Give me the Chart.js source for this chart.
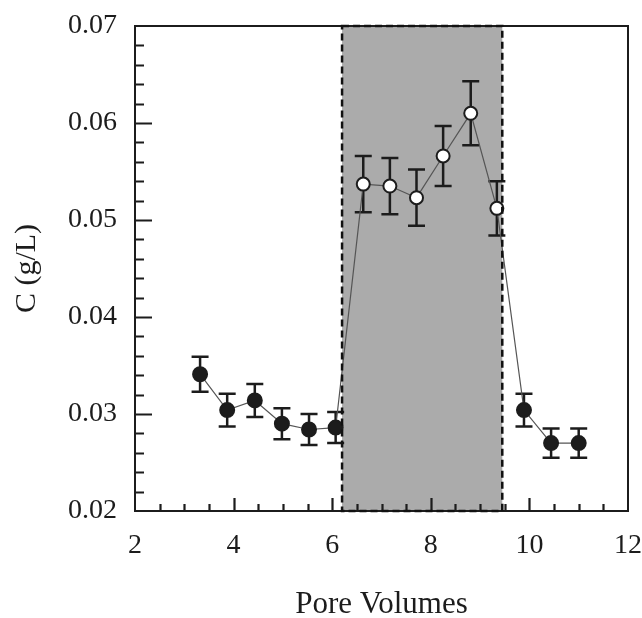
<!DOCTYPE html>
<html>
<head>
<meta charset="utf-8">
<script src="https://cdn.jsdelivr.net/npm/chart.js@4.4.1/dist/chart.umd.min.js"></script>
<style>
  html, body { margin: 0; padding: 0; background: #ffffff; }
  #wrap { width: 642px; height: 618px; }
</style>
</head>
<body>
<div id="wrap"><canvas id="c" width="642" height="618"></canvas></div>
<script>
// ---- data ----
const poreVolumes = [3.32, 3.87, 4.43, 4.98, 5.53, 6.07, 6.63, 7.17, 7.71, 8.25, 8.81, 9.34, 9.89, 10.44, 11.00];
const concentration = [0.0341, 0.0304, 0.0314, 0.0290, 0.0284, 0.0286, 0.0537, 0.0535, 0.0523, 0.0566, 0.0610, 0.0512, 0.0304, 0.0270, 0.0270];
const concError = [0.0018, 0.0017, 0.0017, 0.0016, 0.0016, 0.0016, 0.0029, 0.0029, 0.0029, 0.0031, 0.0033, 0.0028, 0.0017, 0.0015, 0.0015];
const pulseWindow = [6.2, 9.45];           // shaded interval (pore volumes)
const xTicks = [2, 4, 6, 8, 10, 12];
const yTicks = [0.02, 0.03, 0.04, 0.05, 0.06, 0.07];
const xMinorStep = 0.5;
const yMinorStep = 0.002;
const xTitle = 'Pore Volumes';
const yTitle = 'C (g/L)';

const INK = '#1c1c1c';
const FONT = "'Liberation Serif', 'Times New Roman', serif";

const points = poreVolumes.map((v, i) => ({ x: v, y: concentration[i] }));
const inPulse = (x) => x >= pulseWindow[0] && x <= pulseWindow[1];

const zeroPad = (s) => { s.paddingTop = 0; s.paddingBottom = 0; s.paddingLeft = 0; s.paddingRight = 0; };

const decorPlugin = {
  id: 'decor',
  beforeDatasetsDraw(chart) {
    const { ctx, chartArea: a, scales: { x, y } } = chart;
    const x0 = x.getPixelForValue(pulseWindow[0]);
    const x1 = x.getPixelForValue(pulseWindow[1]);
    ctx.save();
    ctx.fillStyle = '#ababab';
    ctx.fillRect(x0, a.top, x1 - x0, a.bottom - a.top);
    // error bars
    ctx.strokeStyle = INK;
    ctx.lineWidth = 2.5;
    ctx.lineCap = 'butt';
    const cap = 8.5;
    poreVolumes.forEach((v, i) => {
      const px = x.getPixelForValue(v);
      const pt = y.getPixelForValue(concentration[i] + concError[i]);
      const pb = y.getPixelForValue(concentration[i] - concError[i]);
      ctx.beginPath();
      ctx.moveTo(px, pt); ctx.lineTo(px, pb);
      ctx.moveTo(px - cap, pt); ctx.lineTo(px + cap, pt);
      ctx.moveTo(px - cap, pb); ctx.lineTo(px + cap, pb);
      ctx.stroke();
    });
    ctx.restore();
  },
  afterDatasetsDraw(chart) {
    const { ctx, chartArea: a, scales: { x, y } } = chart;
    ctx.save();
    // frame
    ctx.strokeStyle = INK;
    ctx.lineWidth = 2;
    ctx.strokeRect(a.left, a.top, a.right - a.left, a.bottom - a.top);
    // ticks
    ctx.lineWidth = 2.2;
    ctx.beginPath();
    const nY = Math.round((y.max - y.min) / yMinorStep);
    for (let k = 1; k < nY; k++) {
      const v = y.min + k * yMinorStep;
      const p = Math.round(y.getPixelForValue(v)) + 0.5;
      const major = k % 5 === 0;
      ctx.moveTo(a.left, p); ctx.lineTo(a.left + (major ? 17 : 9), p);
    }
    const nX = Math.round((x.max - x.min) / xMinorStep);
    for (let k = 1; k < nX; k++) {
      const v = x.min + k * xMinorStep;
      const p = Math.round(x.getPixelForValue(v)) + 0.5;
      const major = k % 4 === 0;
      ctx.moveTo(p, a.bottom); ctx.lineTo(p, a.bottom - (major ? 13 : 7));
    }
    ctx.stroke();
    // dashed borders of the shaded window
    const x0 = x.getPixelForValue(pulseWindow[0]);
    const x1 = x.getPixelForValue(pulseWindow[1]);
    ctx.setLineDash([7, 4]);
    ctx.lineWidth = 2.5;
    ctx.strokeStyle = '#111';
    ctx.strokeRect(x0, a.top, x1 - x0, a.bottom - a.top);
    ctx.restore();
  }
};

new Chart(document.getElementById('c'), {
  type: 'scatter',
  data: {
    datasets: [{
      data: points,
      showLine: true,
      borderColor: '#555555',
      borderWidth: 1.2,
      pointRadius: (c) => inPulse(c.raw.x) ? 6.5 : 7,
      pointBorderWidth: 2,
      pointBorderColor: INK,
      pointBackgroundColor: (c) => inPulse(c.raw.x) ? '#ffffff' : INK,
      pointHoverRadius: 7
    }]
  },
  options: {
    responsive: false,
    animation: false,
    events: [],
    layout: { padding: { left: 0, right: 14, top: 26, bottom: 0 } },
    plugins: { legend: { display: false }, tooltip: { enabled: false } },
    scales: {
      x: {
        type: 'linear',
        min: 2, max: 12,
        afterFit: (s) => { s.height = 107; zeroPad(s); },
        afterBuildTicks: (s) => { s.ticks = xTicks.map(v => ({ value: v })); },
        grid: { display: false, drawTicks: false },
        border: { display: false },
        ticks: {
          padding: 18,
          color: INK,
          font: { family: FONT, size: 28 },
          callback: (v) => String(v)
        },
        title: {
          display: true,
          text: xTitle,
          color: INK,
          font: { family: FONT, size: 31, lineHeight: 0.86 },
          padding: { top: 0, bottom: 0 }
        }
      },
      y: {
        type: 'linear',
        min: 0.02, max: 0.07,
        afterFit: (s) => { s.width = 135; zeroPad(s); },
        afterBuildTicks: (s) => { s.ticks = yTicks.map(v => ({ value: v })); },
        grid: { display: false, drawTicks: false },
        border: { display: false },
        ticks: {
          padding: 18,
          color: INK,
          font: { family: FONT, size: 28 },
          callback: (v) => Number(v).toFixed(2)
        },
        title: {
          display: true,
          text: yTitle,
          color: INK,
          font: { family: FONT, size: 30, lineHeight: 1.2 },
          padding: { top: 9, bottom: 0 }
        }
      }
    }
  },
  plugins: [decorPlugin]
});
</script>
</body>
</html>
